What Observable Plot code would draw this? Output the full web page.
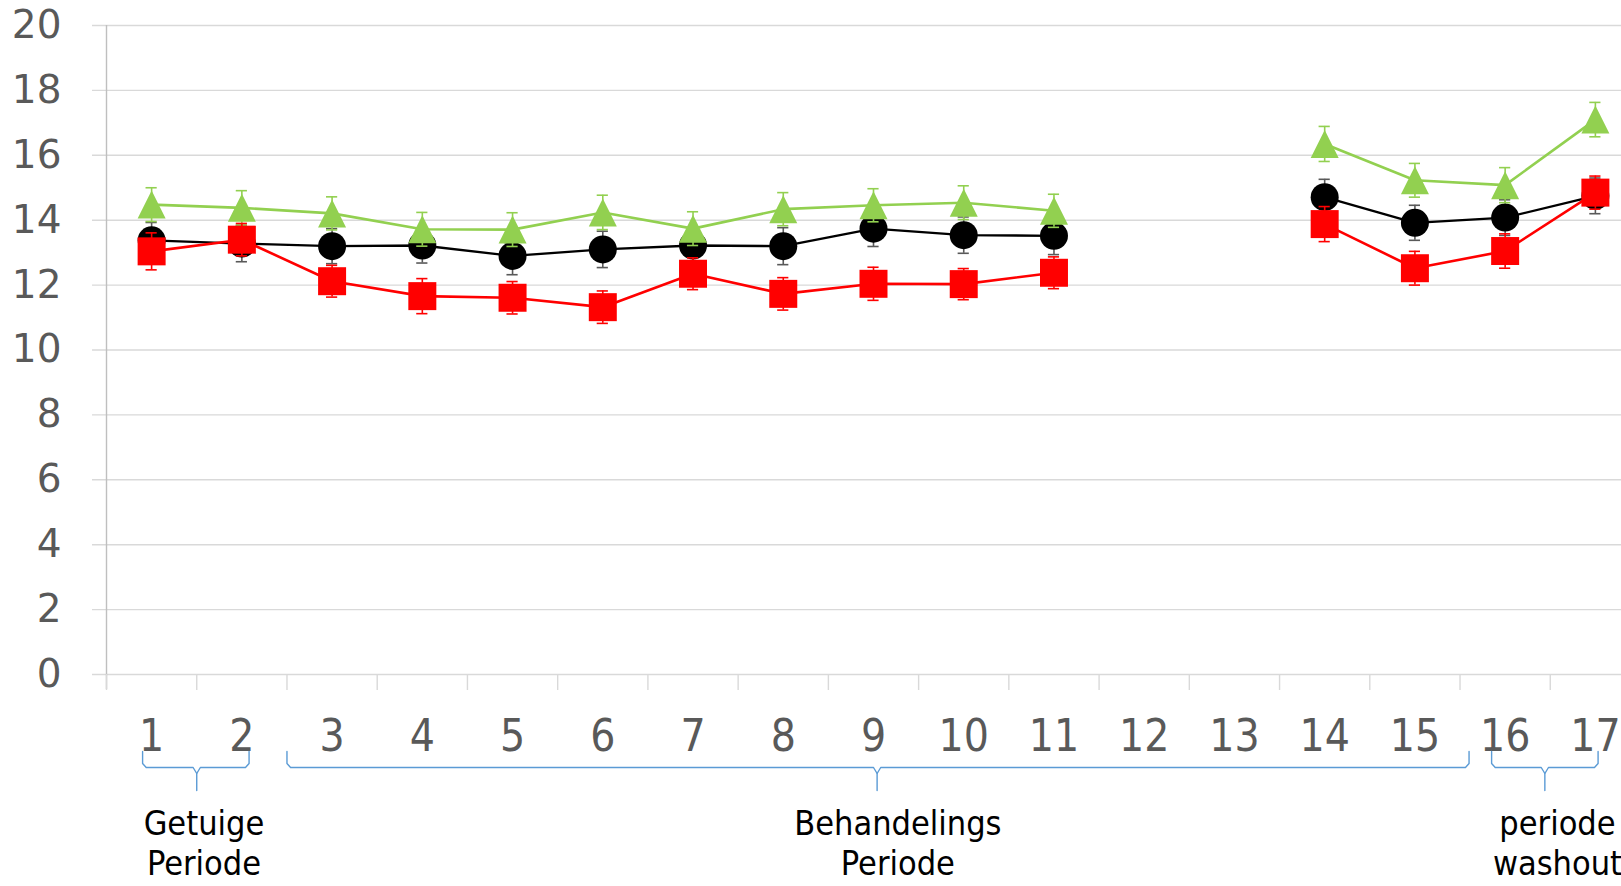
<!DOCTYPE html>
<html>
<head>
<meta charset="utf-8">
<script src="https://cdn.jsdelivr.net/npm/d3@7"></script>
<script src="https://cdn.jsdelivr.net/npm/@observablehq/plot@0.6"></script>
<style>
  html, body { margin: 0; padding: 0; background: #fff; overflow: hidden; }
  #chart svg { display: block; }
</style>
</head>
<body>
<div id="chart"></div>
<script>
// ---- data ----
const cats = [1, 2, 3, 4, 5, 6, 7, 8, 9, 10, 11, 12, 13, 14, 15, 16, 17];
const xLabels = ["1","2","3","4","5","6","7","8","9","10","11","12","13","14","15","16","17"];
const yTicks = [0, 2, 4, 6, 8, 10, 12, 14, 16, 18, 20];

const blackVals = [13.38, 13.28, 13.20, 13.22, 12.90, 13.10, 13.22, 13.20, 13.74, 13.54, 13.52, null, null, 14.71, 13.92, 14.08, 14.75];
const blackErr  = [0.55, 0.56, 0.54, 0.54, 0.58, 0.56, 0.55, 0.57, 0.55, 0.56, 0.58, null, null, 0.55, 0.54, 0.55, 0.55];
const greenVals = [14.48, 14.38, 14.21, 13.72, 13.71, 14.24, 13.74, 14.34, 14.46, 14.54, 14.29, null, null, 16.35, 15.23, 15.08, 17.10];
const greenErr  = [0.52, 0.53, 0.51, 0.52, 0.52, 0.53, 0.52, 0.51, 0.51, 0.52, 0.51, null, null, 0.54, 0.52, 0.54, 0.53];
const redVals   = [13.04, 13.40, 12.12, 11.66, 11.61, 11.32, 12.35, 11.73, 12.04, 12.03, 12.38, null, null, 13.88, 12.52, 13.05, 14.85];
const redErr    = [0.57, 0.50, 0.49, 0.54, 0.50, 0.50, 0.49, 0.50, 0.51, 0.48, 0.49, null, null, 0.54, 0.52, 0.53, 0.51];

// period annotations (in category units)
const periodLabels = ["Getuige\nPeriode", "Behandelings\nPeriode", "periode\nwashout"];
const periodFrom   = [0.9, 2.5, 15.85];
const periodTo     = [2.08, 15.6, 17.03];
const periodNib    = [1.5, 9.04, 16.44];
const periodLabelAt = [1.58, 9.27, 16.58];

// ---- build ----
function rows(vals, errs) {
  return cats.map((c, i) => ({x: c, v: vals[i], e: errs[i]}));
}
const black = rows(blackVals, blackErr);
const green = rows(greenVals, greenErr);
const red = rows(redVals, redErr);

const pxPerUnit = (674 - 25) / 20;
const below = px => -px / pxPerUnit; // offset below the x axis, in y units

const squareSym = {draw(ctx, size) { const r = Math.sqrt(size / Math.PI); ctx.moveTo(-r, -r); ctx.lineTo(r, -r); ctx.lineTo(r, r); ctx.lineTo(-r, r); ctx.closePath(); }};
const triSym = {draw(ctx, size) { const r = Math.sqrt(size / Math.PI); ctx.moveTo(0, -r); ctx.lineTo(r, r); ctx.lineTo(-r, r); ctx.closePath(); }};

const capHalf = 0.062;
function seriesMarks(data, color, errColor, symbol, lw) {
  const valid = data.filter(d => d.v != null);
  return [
    Plot.line(data, {x: "x", y: "v", stroke: color, strokeWidth: lw}),
    Plot.ruleX(valid, {x: "x", y1: d => d.v - d.e, y2: d => d.v + d.e, stroke: errColor, strokeWidth: 1.6}),
    Plot.ruleY(valid, {y: d => d.v + d.e, x1: d => d.x - capHalf, x2: d => d.x + capHalf, stroke: errColor, strokeWidth: 1.6}),
    Plot.ruleY(valid, {y: d => d.v - d.e, x1: d => d.x - capHalf, x2: d => d.x + capHalf, stroke: errColor, strokeWidth: 1.6}),
    Plot.dot(valid, {x: "x", y: "v", r: 14, symbol, fill: color, stroke: "none"})
  ];
}

// bracket geometry
const yTip = below(77), yLine = below(93), yNib = below(116), yNibStart = below(99);
const bracketPts = [];
periodFrom.forEach((x0, i) => {
  const x1 = periodTo[i], xm = periodNib[i];
  const segL = [[x0, yTip], [x0, below(89)], [x0 + 0.04, yLine], [xm - 0.04, yLine], [xm, yNibStart], [xm, yNib]];
  const segR = [[xm, yNibStart], [xm + 0.04, yLine], [x1 - 0.04, yLine], [x1, below(89)], [x1, yTip]];
  segL.forEach(p => bracketPts.push({x: p[0], y: p[1], k: i + "L"}));
  segR.forEach(p => bracketPts.push({x: p[0], y: p[1], k: i + "R"}));
});

const chart = Plot.plot({
  width: 1621,
  height: 886,
  marginLeft: 106, marginRight: 0, marginTop: 25, marginBottom: 212,
  x: {type: "linear", domain: [0.5, 17.5], range: [106, 1640], axis: null},
  y: {type: "linear", domain: [0, 20], range: [674, 25], axis: null},
  marks: [
    // gridlines (with outer tick)
    Plot.ruleY(yTicks, {y: d => d, x1: 0.345, x2: 17.5, stroke: "#D9D9D9", strokeWidth: 1.4}),
    // y axis line
    Plot.ruleX([0.5], {y1: below(15), y2: 20, stroke: "#BFBFBF", strokeWidth: 1.4}),
    // x category boundary ticks
    Plot.ruleX(cats.map(c => c - 0.5), {x: d => d, y1: 0, y2: below(16), stroke: "#D9D9D9", strokeWidth: 1.4}),
    // y labels
    Plot.text(yTicks, {x: 0.5, y: d => d, text: d => String(d), textAnchor: "end", dx: -45,
      fontSize: 39, fontFamily: "DejaVu Sans, sans-serif", fill: "#595959"}),
    // x labels
    Plot.text(cats, {x: d => d, y: 0, dy: 62, text: (d, i) => xLabels[i],
      fontSize: 44, fontFamily: "Liberation Sans Narrow, DejaVu Sans Condensed, sans-serif", fill: "#595959"}),
    // series
    ...seriesMarks(black, "#000000", "#595959", "circle", 2.3),
    ...seriesMarks(green, "#92D050", "#92D050", triSym, 2.6),
    ...seriesMarks(red, "#FF0000", "#FF0000", squareSym, 2.6),
    // brackets
    Plot.line(bracketPts, {x: "x", y: "y", z: "k", stroke: "#5B9BD5", strokeWidth: 1.4}),
    Plot.text(periodLabels, {x: (d, i) => periodLabelAt[i], y: 0, dy: 168, text: d => d,
      lineAnchor: "middle", lineHeight: 1.17, fontSize: 34,
      fontFamily: "Liberation Sans Narrow, DejaVu Sans Condensed, sans-serif", fill: "#000000"})
  ]
});
document.getElementById("chart").appendChild(chart);
</script>
</body>
</html>
